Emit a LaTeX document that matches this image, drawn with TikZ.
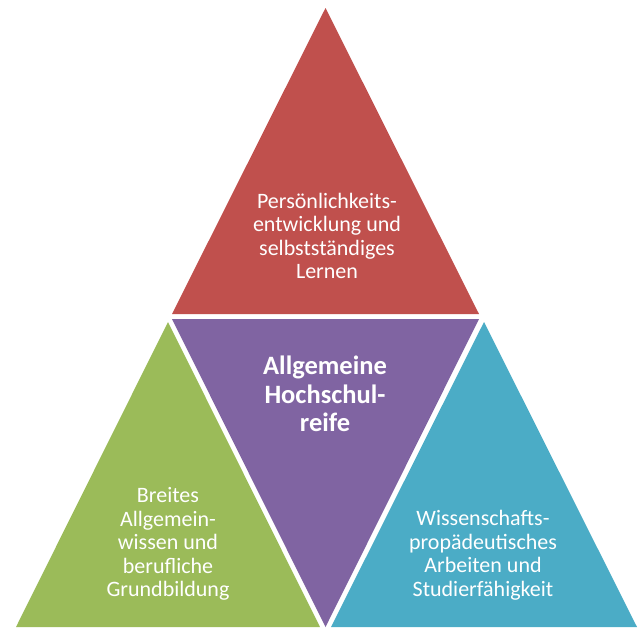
\documentclass[tikz,border=0pt]{standalone}
\usepackage{fontspec}
\setmainfont{Carlito}
\definecolor{tred}{HTML}{C0504D}
\definecolor{tpurple}{HTML}{8064A2}
\definecolor{tgreen}{HTML}{9BBB59}
\definecolor{tcyan}{HTML}{4BACC6}
\tikzset{
  lbl/.style={text=white, align=center, inner sep=0pt, font=\fontsize{22}{23.5}\selectfont},
  blbl/.style={text=white, align=center, inner sep=0pt, font=\bfseries\fontsize{26.5}{28.5}\selectfont}
}
\begin{document}
\begin{tikzpicture}[x=1pt,y=-1pt]
\useasboundingbox[fill=white] (0,0) rectangle (642,627);
% top red
\fill[tred] (325.5,8) -- (479,314) -- (172,314) -- cycle;
% middle purple
\fill[tpurple] (172,319) -- (479,319) -- (325.5,627) -- cycle;
% left green
\fill[tgreen] (168,322) -- (320,627) -- (16,627) -- cycle;
% right cyan
\fill[tcyan] (484,322) -- (637,627) -- (331,627) -- cycle;

\node[lbl] (top) at (327,236) {Persönlichkeits-\\entwicklung und\\selbstständiges\\Lernen};
\node[blbl] (mid) at (325,394) {Allgemeine\\Hochschul-\\reife};
\node[lbl] (left) at (168,544) {Breites\\Allgemein-\\wissen und\\berufliche\\Grundbildung};
\node[lbl] (right) at (483,555) {Wissenschafts-\\propädeutisches\\Arbeiten und\\Studierfähigkeit};
\end{tikzpicture}
\end{document}
